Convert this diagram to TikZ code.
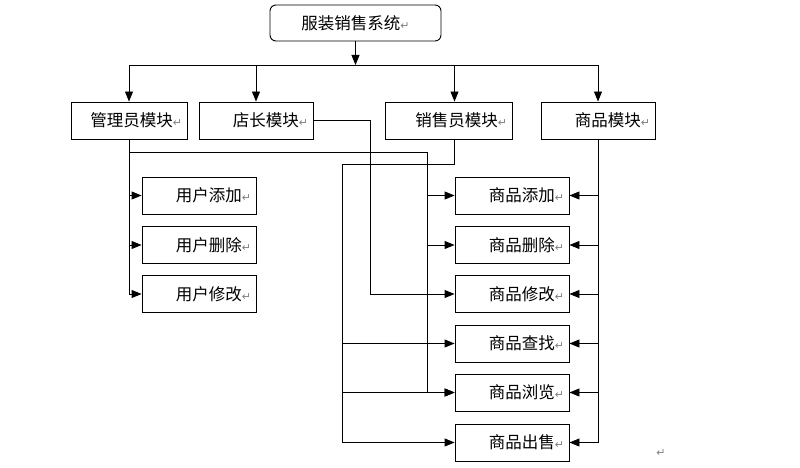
\documentclass[tikz,border=0pt]{standalone}
\usepackage{fontspec}
\usepackage{xcolor}
\usetikzlibrary{arrows.meta}
\newfontfamily\cjk{Noto Sans CJK SC}
\newfontfamily\markfont{DejaVu Sans}
\newcommand{\retmark}{{\markfont\fontsize{11}{11}\selectfont\color{gray}↵}}

\begin{document}
\begin{tikzpicture}[x=1pt,y=-1pt]
        % Styles
        \tikzstyle{box} = [draw=black, line width=0.9pt, inner ysep=0pt, inner xsep=5pt,
        minimum height=37pt, align=right, font=\cjk\fontsize{16.5}{19}\selectfont]
        \tikzstyle{leaf} = [box, text width=104pt]
        \tikzstyle{wire} = [line width=0.9pt]
        \tikzstyle{arr} = [wire, -{Triangle[length=10pt,width=8pt]}]

        \useasboundingbox (0,0) rectangle (800,468);

        % Nodes
        \node (sys)    [box, rounded corners=6pt, align=center, minimum width=171pt,
                        minimum height=36pt] at (355.5,23) {服装销售系统\retmark};
        \node (admin)  [box, text width=106pt] at (129,120.5)   {管理员模块\retmark};
        \node (shop)   [box, text width=104pt] at (256,120.5)   {店长模块\retmark};
        \node (sales)  [box, text width=117pt] at (448.5,120.5) {销售员模块\retmark};
        \node (goods)  [box, text width=104pt] at (598,120.5)   {商品模块\retmark};

        \node (uadd)   [leaf] at (199,195.5) {用户添加\retmark};
        \node (udel)   [leaf] at (199,245)   {用户删除\retmark};
        \node (uedit)  [leaf] at (199,294)   {用户修改\retmark};

        \node (gadd)   [leaf] at (512,195.5) {商品添加\retmark};
        \node (gdel)   [leaf] at (512,245)   {商品删除\retmark};
        \node (gedit)  [leaf] at (512,294)   {商品修改\retmark};
        \node (gfind)  [leaf] at (512,343.5) {商品查找\retmark};
        \node (gview)  [leaf] at (512,392.5) {商品浏览\retmark};
        \node (gsell)  [leaf] at (512,442.5) {商品出售\retmark};

        \node (endmark) at (661,453) {\retmark};

        % Rails
        \coordinate (bar)       at (357,65);
        \coordinate (adminrail) at (427,152);
        \coordinate (shoprail)  at (370,118);
        \coordinate (salesrail) at (342,164);
        \coordinate (salestop)  at ([xshift=6pt]sales.north);
        \coordinate (salesbot)  at ([xshift=6pt]sales.south);

        % Edges
        \draw[arr]  (sys.south |- 0,41) -- (sys.south |- bar);
        \draw[wire] (bar -| admin.north) -- (bar -| goods.north);
        \foreach \m in {admin, shop, goods}
            \draw[arr] (bar -| \m.north) -- (\m.north);
        \draw[arr]  (bar -| salestop) -- (salestop);

        \draw[wire] (admin.south) -- (admin.south |- uedit.west);
        \foreach \u in {uadd, udel, uedit}
            \draw[arr] (admin.south |- \u.west) -- (\u.west);
        \draw[wire] (admin.south |- adminrail) -- (adminrail) -- (adminrail |- gview.west);
        \foreach \g in {gadd, gdel, gview}
            \draw[arr] (adminrail |- \g.west) -- (\g.west);

        \draw[arr]  (shop.east) -| (shoprail |- gedit.west) -- (gedit.west);

        \draw[wire] (salesbot) |- (salesrail) -- (salesrail |- gsell.west);
        \foreach \g in {gfind, gview, gsell}
            \draw[arr] (salesrail |- \g.west) -- (\g.west);

        \draw[wire] (goods.south) -- (goods.south |- gsell.east);
        \foreach \g in {gadd, gdel, gedit, gfind, gview, gsell}
            \draw[arr] (goods.south |- \g.east) -- (\g.east);

    \end{tikzpicture}
\end{document}
